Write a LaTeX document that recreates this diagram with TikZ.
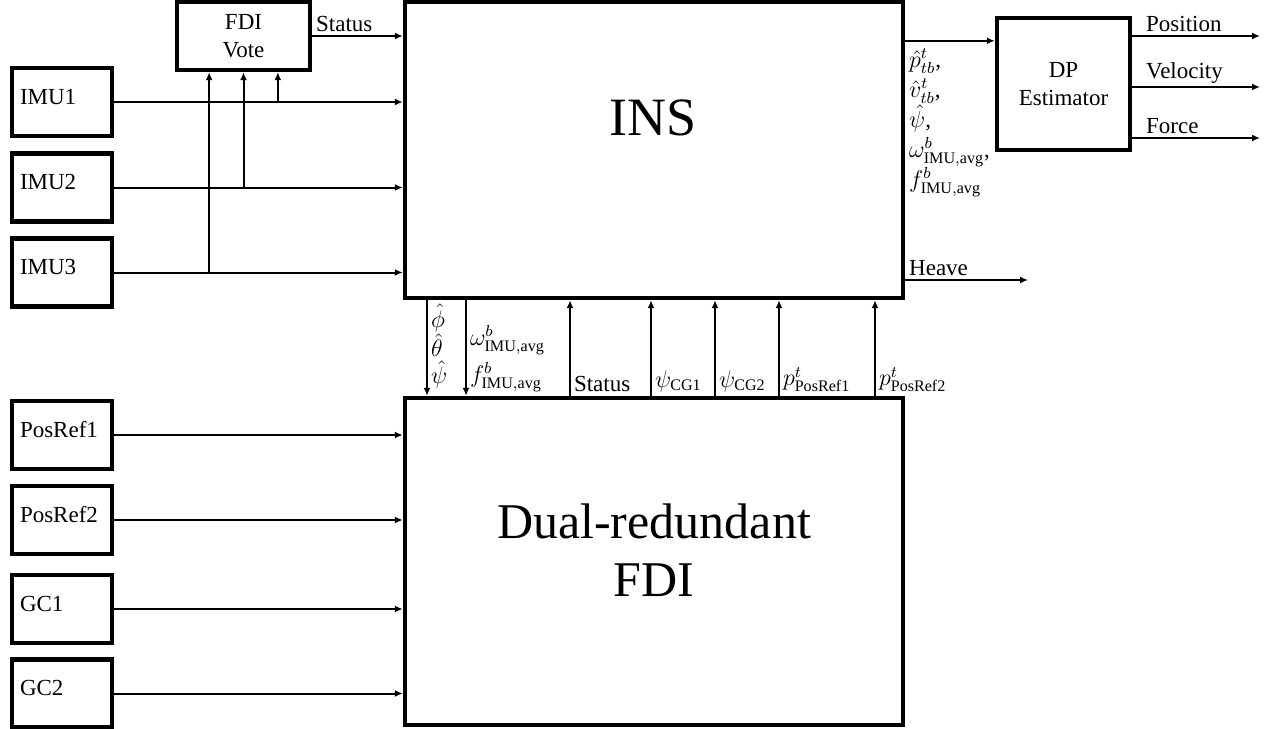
\documentclass[tikz,border=0pt]{standalone}
\usepackage{fontspec}
\setmainfont{Liberation Serif}
\usetikzlibrary{arrows.meta,positioning,calc}

\begin{document}
\begin{tikzpicture}[
  x=0.5pt, y=-0.5pt,
  font=\fontsize{11.5}{13.5}\selectfont,
  sensor/.style={draw, line width=2.4pt, minimum width=50pt, minimum height=34pt, inner xsep=4pt, text width=42pt, align=left, text height=8pt, text depth=6pt},
  unit/.style={draw, line width=2.2pt, inner sep=0pt, minimum width=249pt},
  title/.style={align=center, font=\fontsize{26}{29}\selectfont},
  proc/.style={draw, line width=2.2pt, align=center, minimum width=66.5pt, inner sep=1pt, font=\fontsize{11.5}{14}\selectfont},
  arr/.style={-{Latex[length=4pt,width=3.5pt]}, line width=1pt},
  lbl/.style={inner sep=1.5pt, font=\fontsize{11.5}{13.5}\selectfont}
]
\useasboundingbox (0,0) rectangle (1271,729);

% sensors
\node[sensor] (imu1) at (62,102) {IMU1};
\node[sensor] (imu2) at (62,187.5) {IMU2};
\node[sensor] (imu3) at (62,272.5) {IMU3};
\node[sensor] (pos1) at (62,435) {PosRef1};
\node[sensor] (pos2) at (62,520) {PosRef2};
\node[sensor] (gc1) at (62,609) {GC1};
\node[sensor] (gc2) at (62,693.5) {GC2};

% main blocks
\node[unit, minimum height=148pt] (ins) at (654,150) {};
\node[title, font=\fontsize{27}{29}\selectfont] (institle) at (653,118) {INS};
\node[unit, minimum height=163.5pt] (fdi) at (654,561.5) {};
\node[title, font=\fontsize{25}{29}\selectfont] (fdititle) at (654,550) {Dual-redundant\\FDI};
\node[proc, minimum height=34pt] (vote) at (243.5,36) {FDI\\Vote};
\node[proc, minimum height=66pt] (dp) at (1063.5,84) {DP\\Estimator};

% sensor inputs
\foreach \s in {imu1,imu2,imu3}
  \draw[arr] (\s.east) -- (\s.east -| ins.west);
\foreach \s in {pos1,pos2,gc1,gc2}
  \draw[arr] (\s.east) -- (\s.east -| fdi.west);

% taps to the vote
\coordinate (tap3) at ($(vote.south west)!0.25!(vote.south east)$);
\coordinate (tap2) at ($(vote.south west)!0.5!(vote.south east)$);
\coordinate (tap1) at ($(vote.south west)!0.75!(vote.south east)$);
\draw[arr] (tap3 |- imu3.east) -- (tap3);
\draw[arr] (tap2 |- imu2.east) -- (tap2);
\draw[arr] (tap1 |- imu1.east) -- (tap1);
\draw[arr] (vote.east) -- (vote.east -| ins.west)
  node[pos=0, anchor=south west, lbl] {Status};

% INS outputs
\coordinate (insout) at ([yshift=-20.5pt]ins.north east);
\draw[arr] (insout) -- (insout -| dp.west)
  node[pos=0, anchor=north west, lbl, align=left, yshift=-2pt, font=\fontsize{11.5}{15}\selectfont]
  {$\hat{p}^t_{tb}$,\\$\hat{v}^t_{tb}$,\\$\hat{\psi}$,\\$\omega^b_{\mathrm{IMU,avg}}$,\\$f^b_{\mathrm{IMU,avg}}$};
\coordinate (heave) at (1028,280);
\draw[arr] (heave -| ins.east) -- (heave)
  node[pos=0, anchor=south west, lbl] {Heave};

% DP outputs
\coordinate (posout) at (1260,36);
\coordinate (velout) at (1260,87);
\coordinate (forout) at (1260,138);
\draw[arr] (posout -| dp.east) -- (posout) node[pos=0, anchor=south west, lbl, xshift=5pt] {Position};
\draw[arr] (velout -| dp.east) -- (velout) node[pos=0, anchor=south west, lbl, xshift=5pt] {Velocity};
\draw[arr] (forout -| dp.east) -- (forout) node[pos=0, anchor=south west, lbl, xshift=5pt] {Force};

% INS to FDI
\draw[arr] (ins.south -| 427,0) -- (fdi.north -| 427,0)
  node[pos=0, anchor=north west, lbl, align=left] {$\hat{\phi}$\\$\hat{\theta}$\\$\hat{\psi}$};
\draw[arr] (ins.south -| 466,0) -- (fdi.north -| 466,0)
  node[pos=1, anchor=south west, lbl, align=left] {$\omega^b_{\mathrm{IMU,avg}}$\\[3pt]$f^b_{\mathrm{IMU,avg}}$};

% FDI to INS
\foreach \x/\t in {570/Status, 651/$\psi_{\mathrm{CG1}}$, 715/$\psi_{\mathrm{CG2}}$,
                   779/$p^t_{\mathrm{PosRef1}}$, 875/$p^t_{\mathrm{PosRef2}}$}
  \draw[arr] (fdi.north -| \x,0) -- (ins.south -| \x,0)
    node[pos=0, anchor=south west, lbl] {\t};
\end{tikzpicture}
\end{document}
